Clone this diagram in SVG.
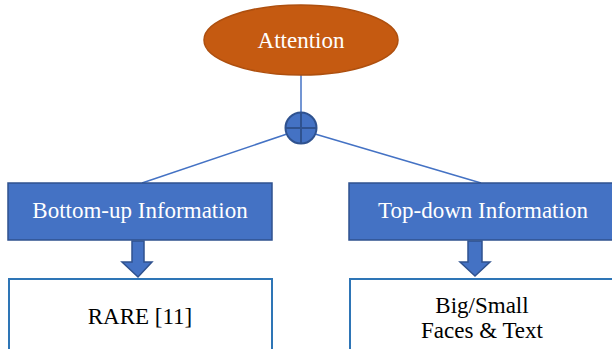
<svg xmlns="http://www.w3.org/2000/svg" width="612" height="349" viewBox="0 0 612 349">
<style>
.lbl{fill:#fff;font-size:23px}
.body{fill:#000;font-size:23px}
.blue{fill:#4472C4;stroke:#2F528F;stroke-width:1.5}
.wbox{fill:#fff;stroke:#2E75B6;stroke-width:2}
.conn{stroke:#4472C4;stroke-width:1.5;fill:none}
</style>
<rect width="612" height="349" fill="#fff"/>
<g id="connectors">
<line class="conn" x1="301" y1="74" x2="301" y2="113"/>
<line class="conn" x1="287" y1="134" x2="142" y2="183"/>
<line class="conn" x1="315" y1="134" x2="481" y2="183"/>
<path class="blue" d="M132,241 H144 V262 H152 L138,277 L122,262 H132 Z"/>
<path class="blue" d="M468,241 H482 V262 H490 L475,276 L460,262 H468 Z"/>
</g>
<g font-family="Liberation Serif, serif" text-anchor="middle">
<g id="attention">
<ellipse cx="301" cy="40" rx="97" ry="35" fill="#C55A11" stroke="#AE4F0E" stroke-width="1.5"/>
<text class="lbl" x="301" y="48">Attention</text>
</g>
<g id="sum">
<circle cx="301" cy="128" r="15.5" fill="#4472C4" stroke="#2F528F" stroke-width="2"/>
<path d="M285.5,128 H316.5 M301,112.5 V143.5" stroke="#2F528F" stroke-width="2"/>
</g>
<g id="bottomup">
<rect class="blue" x="8" y="183" width="264" height="57"/>
<text class="lbl" x="140" y="218">Bottom-up Information</text>
</g>
<g id="topdown">
<rect class="blue" x="349" y="183" width="268" height="57"/>
<text class="lbl" x="483" y="218">Top-down Information</text>
</g>
<g id="rare">
<rect class="wbox" x="9" y="279" width="263" height="80"/>
<text class="body" x="140" y="324">RARE [11]</text>
</g>
<g id="bigsmall">
<rect class="wbox" x="350" y="279" width="270" height="80"/>
<text class="body" x="482" y="313">Big/Small</text>
<text class="body" x="482" y="338">Faces &amp; Text</text>
</g>
</g>
</svg>
